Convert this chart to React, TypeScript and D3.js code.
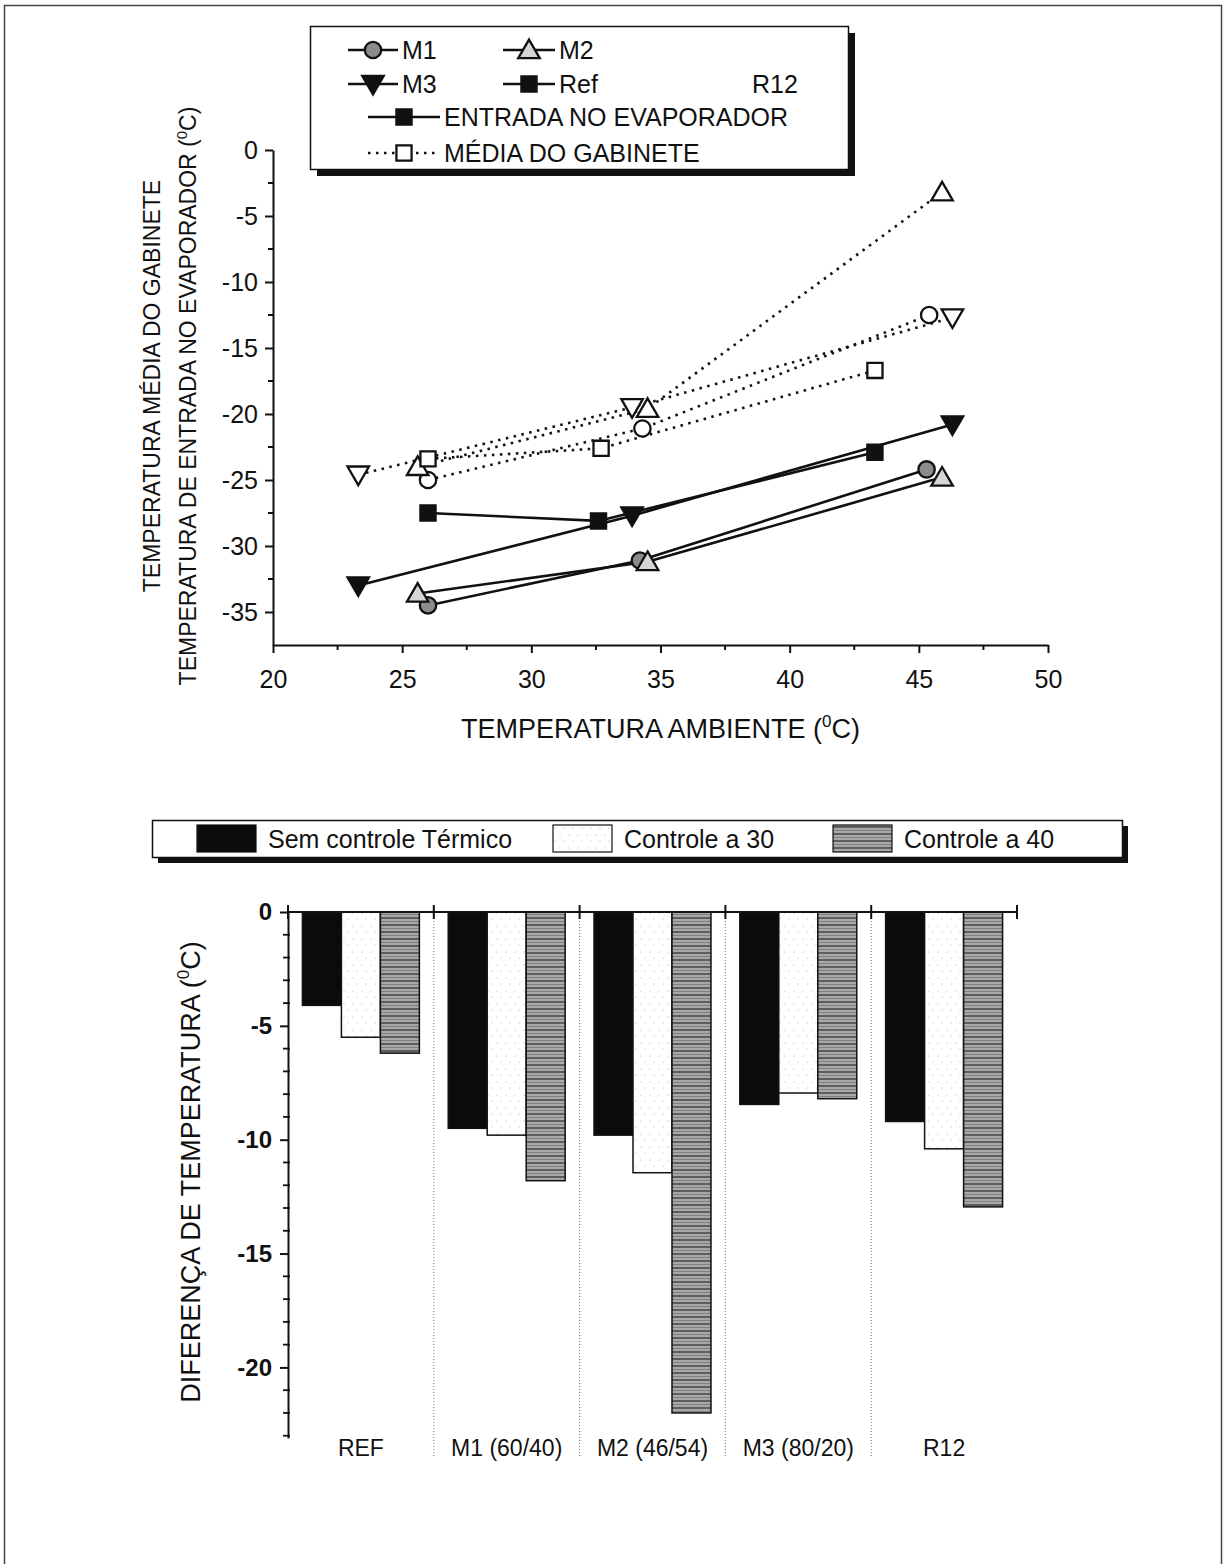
import * as d3 from "d3"
import { useEffect, useRef } from "react"

const FONT = "'Liberation Sans', Arial, Helvetica, sans-serif"

// ---- top chart: temperatura ambiente x temperatura (°C) ----
// ENTRADA NO EVAPORADOR (solid lines)
const entradaM1 = [
  { t: 26.0, v: -34.5 },
  { t: 34.2, v: -31.1 },
  { t: 45.3, v: -24.2 },
]
const entradaM2 = [
  { t: 25.6, v: -33.6 },
  { t: 34.5, v: -31.2 },
  { t: 45.9, v: -24.8 },
]
const entradaM3 = [
  { t: 23.3, v: -33.0 },
  { t: 33.9, v: -27.7 },
  { t: 46.3, v: -20.8 },
]
const entradaRef = [
  { t: 26.0, v: -27.5 },
  { t: 32.6, v: -28.1 },
  { t: 43.3, v: -22.9 },
]
// MÉDIA DO GABINETE (dotted lines)
const gabineteM1 = [
  { t: 26.0, v: -25.0 },
  { t: 34.3, v: -21.1 },
  { t: 45.4, v: -12.5 },
]
const gabineteM2 = [
  { t: 25.6, v: -24.0 },
  { t: 34.5, v: -19.6 },
  { t: 45.9, v: -3.2 },
]
const gabineteM3 = [
  { t: 23.3, v: -24.6 },
  { t: 33.9, v: -19.5 },
  { t: 46.3, v: -12.7 },
]
const gabineteRef = [
  { t: 26.0, v: -23.4 },
  { t: 32.7, v: -22.6 },
  { t: 43.3, v: -16.7 },
]
const xTicksTop = [20, 25, 30, 35, 40, 45, 50]
const yTicksTop = [0, -5, -10, -15, -20, -25, -30, -35]

// ---- bottom chart: diferença de temperatura ----
const categories = ["REF", "M1 (60/40)", "M2 (46/54)", "M3 (80/20)", "R12"]
const semControle = [-4.1, -9.5, -9.8, -8.45, -9.2]
const controle30 = [-5.5, -9.8, -11.45, -7.95, -10.4]
const controle40 = [-6.2, -11.8, -22.0, -8.2, -12.95]
const yTicksBottom = [0, -5, -10, -15, -20]

type Pt = { t: number; v: number }

const App = () => {
  const svgRef = useRef<SVGSVGElement | null>(null)

  useEffect(() => {
    if (!svgRef.current) return
    const svg = d3.select(svgRef.current)
    svg.selectAll("*").remove()

    const defs = svg.append("defs")
    const gp = defs
      .append("pattern")
      .attr("id", "grayStripes")
      .attr("patternUnits", "userSpaceOnUse")
      .attr("width", 8)
      .attr("height", 7)
    gp.append("rect").attr("width", 8).attr("height", 7).attr("fill", "#a8a8a8")
    gp.append("rect").attr("y", 0).attr("width", 8).attr("height", 2).attr("fill", "#5e5e5e")
    gp.append("rect").attr("y", 4).attr("width", 8).attr("height", 1).attr("fill", "#808080")
    const wp = defs
      .append("pattern")
      .attr("id", "whiteDots")
      .attr("patternUnits", "userSpaceOnUse")
      .attr("width", 9)
      .attr("height", 13)
    wp.append("rect").attr("width", 9).attr("height", 13).attr("fill", "#fff")
    wp.append("circle").attr("cx", 2).attr("cy", 3).attr("r", 0.6).attr("fill", "#aaa")
    wp.append("circle").attr("cx", 6).attr("cy", 9).attr("r", 0.6).attr("fill", "#aaa")

    // outer frame
    svg
      .append("rect")
      .attr("x", 4.5)
      .attr("y", 5.5)
      .attr("width", 1217)
      .attr("height", 1600)
      .attr("fill", "none")
      .attr("stroke", "#444")
      .attr("stroke-width", 1.5)

    const symbolPath = (shape: string, size: number) => {
      const type =
        shape === "circle" ? d3.symbolCircle : shape === "square" ? d3.symbolSquare : d3.symbolTriangle
      return d3.symbol().type(type).size(size)() as string
    }

    const drawMarker = (
      g: d3.Selection<SVGGElement, unknown, null, undefined>,
      shape: string,
      cx: number,
      cy: number,
      fill: string
    ) => {
      const size = shape === "circle" ? 210 : shape === "square" ? 230 : 200
      const rot = shape === "down" ? " rotate(180)" : ""
      const dy = shape === "up" ? 2 : shape === "down" ? -2 : 0
      g.append("path")
        .attr("d", symbolPath(shape, size))
        .attr("transform", `translate(${cx},${cy + dy})${rot}`)
        .attr("fill", fill)
        .attr("stroke", "#111")
        .attr("stroke-width", 2.3)
    }

    // ================= TOP CHART =================
    const x = d3.scaleLinear().domain([20, 50]).range([273, 1048])
    const y = d3.scaleLinear().domain([-37.5, 0]).range([645, 150])

    const top = svg.append("g")

    const xAxis = top
      .append("g")
      .attr("transform", `translate(0,${y(-37.5)})`)
      .call(
        d3
          .axisBottom(x)
          .tickValues(xTicksTop)
          .tickSize(8)
          .tickSizeOuter(0)
          .tickPadding(17)
          .tickFormat(d => String(d))
      )
    top
      .append("g")
      .selectAll("line")
      .data(d3.range(22.5, 50, 5))
      .join("line")
      .attr("x1", d => x(d))
      .attr("x2", d => x(d))
      .attr("y1", y(-37.5))
      .attr("y2", y(-37.5) + 5)
      .attr("stroke", "#111")
      .attr("stroke-width", 2)

    const yAxis = top
      .append("g")
      .attr("transform", `translate(${x(20)},0)`)
      .call(
        d3
          .axisLeft(y)
          .tickValues(yTicksTop)
          .tickSize(8)
          .tickSizeOuter(0)
          .tickPadding(7)
          .tickFormat(d => String(d))
      )
    top
      .append("g")
      .selectAll("line")
      .data(d3.range(-2.5, -37.5, -5))
      .join("line")
      .attr("x1", x(20) - 5)
      .attr("x2", x(20))
      .attr("y1", d => y(d))
      .attr("y2", d => y(d))
      .attr("stroke", "#111")
      .attr("stroke-width", 2)

    ;[xAxis, yAxis].forEach(a => {
      a.selectAll("path, line").attr("stroke", "#111").attr("stroke-width", 2)
      a.selectAll("text")
        .attr("fill", "#111")
        .style("font-family", FONT)
        .style("font-size", "25px")
    })

    // axis titles
    top
      .append("text")
      .attr("x", x(35))
      .attr("y", 738)
      .attr("text-anchor", "middle")
      .style("font-family", FONT)
      .style("font-size", "27px")
      .attr("fill", "#111")
      .call(t => {
        t.append("tspan").text("TEMPERATURA AMBIENTE (")
        t.append("tspan").attr("dy", -11).style("font-size", "17px").text("0")
        t.append("tspan").attr("dy", 11).text("C)")
      })

    top
      .append("text")
      .attr("transform", "translate(160,386) rotate(-90)")
      .attr("text-anchor", "middle")
      .style("font-family", FONT)
      .style("font-size", "23px")
      .attr("fill", "#111")
      .text("TEMPERATURA MÉDIA DO GABINETE")

    top
      .append("text")
      .attr("transform", "translate(196,396) rotate(-90)")
      .attr("text-anchor", "middle")
      .style("font-family", FONT)
      .style("font-size", "23px")
      .attr("fill", "#111")
      .call(t => {
        t.append("tspan").text("TEMPERATURA DE ENTRADA NO EVAPORADOR (")
        t.append("tspan").attr("dy", -9).style("font-size", "15px").text("0")
        t.append("tspan").attr("dy", 9).text("C)")
      })

    const lineGen = d3
      .line<Pt>()
      .x(d => x(d.t))
      .y(d => y(d.v))

    const seriesTop = [
      { data: entradaM1, shape: "circle", fill: "#8c8c8c", dotted: false },
      { data: entradaM2, shape: "up", fill: "#d6d6d6", dotted: false },
      { data: entradaM3, shape: "down", fill: "#111", dotted: false },
      { data: entradaRef, shape: "square", fill: "#111", dotted: false },
      { data: gabineteM1, shape: "circle", fill: "#fff", dotted: true },
      { data: gabineteM2, shape: "up", fill: "#fff", dotted: true },
      { data: gabineteM3, shape: "down", fill: "#fff", dotted: true },
      { data: gabineteRef, shape: "square", fill: "#fff", dotted: true },
    ]

    const linesG = top.append("g")
    seriesTop.forEach(s => {
      linesG
        .append("path")
        .datum(s.data)
        .attr("d", lineGen)
        .attr("fill", "none")
        .attr("stroke", "#111")
        .attr("stroke-width", 2.6)
        .attr("stroke-dasharray", s.dotted ? "2.5 5.5" : null)
    })
    const markG = top.append("g")
    seriesTop.forEach(s => {
      s.data.forEach(d => drawMarker(markG, s.shape, x(d.t), y(d.v), s.fill))
    })

    // top legend
    const lg = svg.append("g")
    lg.append("rect")
      .attr("x", 317)
      .attr("y", 33)
      .attr("width", 538)
      .attr("height", 143)
      .attr("fill", "#111")
    lg.append("rect")
      .attr("x", 310.5)
      .attr("y", 26.5)
      .attr("width", 538)
      .attr("height", 143)
      .attr("fill", "#fff")
      .attr("stroke", "#111")
      .attr("stroke-width", 1.5)

    const legendItems = [
      { x1: 348, x2: 398, y: 50, shape: "circle", fill: "#8c8c8c", dotted: false, label: "M1" },
      { x1: 503, x2: 555, y: 50, shape: "up", fill: "#d6d6d6", dotted: false, label: "M2" },
      { x1: 348, x2: 398, y: 84, shape: "down", fill: "#111", dotted: false, label: "M3" },
      { x1: 503, x2: 555, y: 84, shape: "square", fill: "#111", dotted: false, label: "Ref" },
      { x1: 368, x2: 440, y: 117, shape: "square", fill: "#111", dotted: false, label: "ENTRADA NO EVAPORADOR" },
      { x1: 368, x2: 440, y: 153, shape: "square", fill: "#fff", dotted: true, label: "MÉDIA DO GABINETE" },
    ]
    legendItems.forEach(it => {
      lg.append("line")
        .attr("x1", it.x1)
        .attr("x2", it.x2)
        .attr("y1", it.y)
        .attr("y2", it.y)
        .attr("stroke", "#111")
        .attr("stroke-width", 2.6)
        .attr("stroke-dasharray", it.dotted ? "2.5 5.5" : null)
      drawMarker(lg as any, it.shape, (it.x1 + it.x2) / 2, it.y, it.fill)
      lg.append("text")
        .attr("x", it.x2 + 4)
        .attr("y", it.y + 9)
        .style("font-family", FONT)
        .style("font-size", "25px")
        .attr("fill", "#111")
        .text(it.label)
    })
    lg.append("text")
      .attr("x", 752)
      .attr("y", 93)
      .style("font-family", FONT)
      .style("font-size", "25px")
      .attr("fill", "#111")
      .text("R12")

    // ================= BOTTOM CHART =================
    const xb = d3.scaleBand<string>().domain(categories).range([288, 1017]).paddingInner(0).paddingOuter(0)
    const groups = ["sem", "c30", "c40"]
    const xs = d3.scaleBand<string>().domain(groups).range([0, xb.bandwidth()]).paddingInner(0).paddingOuter(0.37)
    const yb = d3.scaleLinear().domain([-23.1, 0]).range([1438, 912])

    const bot = svg.append("g")

    // dotted separators
    bot
      .append("g")
      .selectAll("line")
      .data(categories.slice(1))
      .join("line")
      .attr("x1", d => xb(d) as number)
      .attr("x2", d => xb(d) as number)
      .attr("y1", 912)
      .attr("y2", 1458)
      .attr("stroke", "#777")
      .attr("stroke-width", 1)
      .attr("stroke-dasharray", "1 2")

    const barSets = [
      { key: "sem", values: semControle, fill: "#0b0b0b" },
      { key: "c30", values: controle30, fill: "url(#whiteDots)" },
      { key: "c40", values: controle40, fill: "url(#grayStripes)" },
    ]
    barSets.forEach(bs => {
      bot
        .append("g")
        .selectAll("rect")
        .data(categories)
        .join("rect")
        .attr("x", d => (xb(d) as number) + (xs(bs.key) as number))
        .attr("y", yb(0))
        .attr("width", xs.bandwidth())
        .attr("height", (d, i) => yb(bs.values[i]) - yb(0))
        .attr("fill", bs.fill)
        .attr("stroke", "#111")
        .attr("stroke-width", 1.5)
    })

    // top horizontal axis with boundary ticks
    bot
      .append("line")
      .attr("x1", 288)
      .attr("x2", 1017)
      .attr("y1", yb(0))
      .attr("y2", yb(0))
      .attr("stroke", "#111")
      .attr("stroke-width", 2)
    const bounds = categories.map(c => xb(c) as number).concat([xb.range()[1]])
    bot
      .append("g")
      .selectAll("line")
      .data(bounds)
      .join("line")
      .attr("x1", d => d)
      .attr("x2", d => d)
      .attr("y1", yb(0) - 7)
      .attr("y2", yb(0) + 7)
      .attr("stroke", "#111")
      .attr("stroke-width", 2)

    const yAxisB = bot
      .append("g")
      .attr("transform", "translate(288,0)")
      .call(
        d3
          .axisLeft(yb)
          .tickValues(yTicksBottom)
          .tickSize(8)
          .tickSizeOuter(0)
          .tickPadding(8)
          .tickFormat(d => String(d))
      )
    yAxisB.selectAll("path, line").attr("stroke", "#111").attr("stroke-width", 2)
    yAxisB
      .selectAll("text")
      .attr("fill", "#111")
      .style("font-family", FONT)
      .style("font-size", "24px")
      .style("font-weight", "bold")
    bot
      .append("g")
      .selectAll("line")
      .data(d3.range(-1, -23.1, -1).filter(d => d % 5 !== 0))
      .join("line")
      .attr("x1", 283)
      .attr("x2", 290)
      .attr("y1", d => yb(d))
      .attr("y2", d => yb(d))
      .attr("stroke", "#111")
      .attr("stroke-width", 1.8)

    bot
      .append("text")
      .attr("transform", "translate(200,1172) rotate(-90)")
      .attr("text-anchor", "middle")
      .style("font-family", FONT)
      .style("font-size", "27px")
      .attr("fill", "#111")
      .call(t => {
        t.append("tspan").text("DIFERENÇA DE TEMPERATURA (")
        t.append("tspan").attr("dy", -11).style("font-size", "17px").text("0")
        t.append("tspan").attr("dy", 11).text("C)")
      })

    bot
      .append("g")
      .selectAll("text")
      .data(categories)
      .join("text")
      .attr("x", d => (xb(d) as number) + xb.bandwidth() / 2)
      .attr("y", 1456)
      .attr("text-anchor", "middle")
      .style("font-family", FONT)
      .style("font-size", "23px")
      .attr("fill", "#111")
      .text(d => d)

    // bottom legend
    const lb = svg.append("g")
    lb.append("rect").attr("x", 158).attr("y", 826).attr("width", 970).attr("height", 37).attr("fill", "#111")
    lb.append("rect")
      .attr("x", 152.5)
      .attr("y", 820.5)
      .attr("width", 970)
      .attr("height", 37)
      .attr("fill", "#fff")
      .attr("stroke", "#111")
      .attr("stroke-width", 1.5)
    const legB = [
      { x: 197, fill: "#0b0b0b", label: "Sem controle Térmico" },
      { x: 553, fill: "url(#whiteDots)", label: "Controle a 30" },
      { x: 833, fill: "url(#grayStripes)", label: "Controle a 40" },
    ]
    legB.forEach(it => {
      lb.append("rect")
        .attr("x", it.x)
        .attr("y", 825)
        .attr("width", 59)
        .attr("height", 27)
        .attr("fill", it.fill)
        .attr("stroke", "#111")
        .attr("stroke-width", 1.2)
      lb.append("text")
        .attr("x", it.x + 71)
        .attr("y", 848)
        .style("font-family", FONT)
        .style("font-size", "25px")
        .attr("fill", "#111")
        .text(it.label)
    })
  }, [])

  return (
    <svg
      ref={svgRef}
      width={1228}
      height={1564}
      style={{ position: "absolute", left: 0, top: 0, background: "#fff" }}
    />
  )
}

export default App
